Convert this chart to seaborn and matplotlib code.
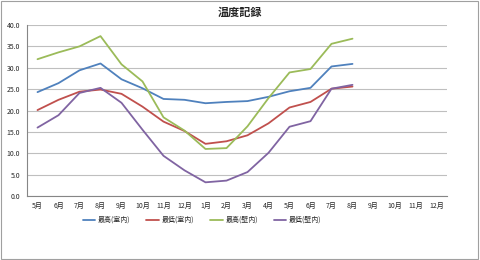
import pandas as pd
import seaborn as sns
import matplotlib.pyplot as plt
from matplotlib.patches import Rectangle
import numpy as np

# month labels on the x axis (20 categories, data for first 16)
months = ['5月', '6月', '7月', '8月', '9月', '10月', '11月', '12月', '1月', '2月',
          '3月', '4月', '5月', '6月', '7月', '8月', '9月', '10月', '11月', '12月']

series_names = ['最高(室内)', '最低(室内)', '最高(壁内)', '最低(壁内)']

max_indoor = [24.3, 26.4, 29.4, 31.0, 27.3, 25.2, 22.7, 22.5, 21.7, 22.0, 22.2, 23.2, 24.5, 25.3, 30.3, 30.9]
min_indoor = [20.1, 22.5, 24.4, 24.9, 23.9, 20.9, 17.4, 15.2, 12.2, 12.8, 14.2, 17.0, 20.7, 22.0, 25.1, 25.6]
max_wall = [32.0, 33.6, 35.0, 37.4, 30.8, 26.8, 18.4, 15.3, 11.0, 11.2, 16.3, 22.9, 28.9, 29.7, 35.6, 36.8]
min_wall = [16.0, 18.9, 24.1, 25.3, 21.8, 15.5, 9.4, 6.0, 3.2, 3.6, 5.6, 10.1, 16.2, 17.5, 25.1, 26.0]

colors = ['#4F81BD', '#C0504D', '#9BBB59', '#8064A2']

# build long dataframe for seaborn
rows = []
for name, vals in zip(series_names, [max_indoor, min_indoor, max_wall, min_wall]):
    for i, v in enumerate(vals):
        rows.append({'pos': i, 'temp': v, 'series': name})
df = pd.DataFrame(rows)

sns.set_theme(style='white')
plt.rcParams['font.family'] = ['Noto Sans CJK JP', 'DejaVu Sans']

fig = plt.figure(figsize=(4.8, 2.6), dpi=100)
ax = fig.add_axes([27 / 480, 1 - 196 / 260, 420 / 480, 171 / 260])

sns.lineplot(data=df, x='pos', y='temp', hue='series', hue_order=series_names,
             palette=colors, linewidth=1.3, ax=ax, legend=True)

# y axis
ax.set_ylim(0, 40)
ax.set_yticks(np.arange(0, 40.1, 5))
ax.set_yticklabels(['{:.1f}'.format(v) for v in np.arange(0, 40.1, 5)], fontsize=5)
ax.yaxis.grid(True, color='#BFBFBF', linewidth=0.8)
ax.set_axisbelow(True)

# x axis: labels at category centres, tick marks at boundaries
ax.set_xlim(-0.5, len(months) - 0.5)
ax.set_xticks(range(len(months)))
ax.set_xticklabels(months, fontsize=5)
ax.set_xticks(np.arange(-0.5, len(months), 1), minor=True)
ax.tick_params(axis='x', which='major', length=0, pad=4)
ax.tick_params(axis='x', which='minor', length=3, color='#868686', direction='out')
ax.tick_params(axis='y', length=3, color='#868686', direction='out', pad=2)
ax.set_xlabel('')
ax.set_ylabel('')

for s in ['top', 'right']:
    ax.spines[s].set_visible(False)
for s in ['left', 'bottom']:
    ax.spines[s].set_color('#868686')
    ax.spines[s].set_linewidth(0.8)

# title
fig.text(0.5, 1 - 12 / 260, '温度記録', ha='center', va='center', fontsize=8, fontweight='bold')

# legend at bottom
handles, labels = ax.get_legend_handles_labels()
ax.legend(handles, labels, loc='center', bbox_to_anchor=(0.417, -0.14), ncol=4,
          frameon=False, fontsize=5, handlelength=1.8, columnspacing=2.3, handletextpad=0.4)

# outer chart border
fig.patches.append(Rectangle((0.002, 0.004), 0.994, 0.992, transform=fig.transFigure,
                             fill=False, edgecolor='#A0A0A0', linewidth=0.8))

fig.savefig('out.png', dpi=100)
